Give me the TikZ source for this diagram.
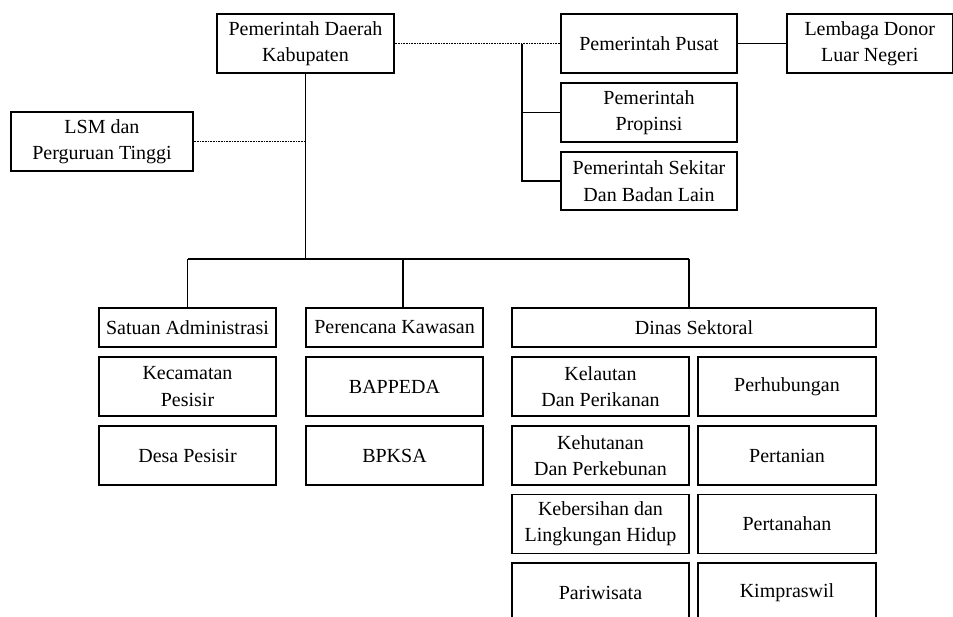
\documentclass[tikz,border=0pt]{standalone}
\usepackage{fontspec}
\setmainfont{Liberation Serif}
\begin{document}
\begin{tikzpicture}[x=1pt,y=-1pt,
  box/.style={draw, line width=1.3pt, inner sep=0pt, align=center,
    font=\fontsize{20}{26.5}\selectfont},
  tall/.style={box, minimum width=177pt, minimum height=59pt},
  flat/.style={box, minimum width=177pt, minimum height=39pt},
  link/.style={line width=1.3pt},
  loose/.style={line width=0.8pt, dash pattern=on 0.8pt off 0.8pt}]
\useasboundingbox (0,0) rectangle (953,616);

% top level
\node[tall] (kab) at (305.5,43.5) {Pemerintah Daerah\\Kabupaten};
\node[tall, minimum width=182pt] (lsm) at (102,141.5) {LSM dan\\Perguruan Tinggi};
\node[tall, minimum width=176pt] (pusat) at (649,43.5) {Pemerintah Pusat};
\node[tall, minimum width=176pt] (prop) at (649,112.5) {Pemerintah\\Propinsi};
\node[tall, minimum width=176pt, minimum height=58pt] (sekitar) at (649,181) {Pemerintah Sekitar\\Dan Badan Lain};
\node[tall, minimum width=165.5pt] (donor) at (869.75,43.5) {Lembaga Donor\\Luar Negeri};

% second level
\node[flat] (satuan) at (187.5,327.5) {Satuan Administrasi};
\node[tall] (kec) at (187.5,386.5) {Kecamatan\\Pesisir};
\node[tall] (desa) at (187.5,455.5) {Desa Pesisir};
\node[flat] (peren) at (394.5,327.5) {Perencana Kawasan};
\node[tall] (bappeda) at (394.5,386.5) {BAPPEDA};
\node[tall] (bpksa) at (394.5,455.5) {BPKSA};
\node[flat, minimum width=364pt] (dinas) at (694,327.5) {Dinas Sektoral};

% sector offices
\node[tall] (kel) at (600.5,386.5) {Kelautan\\Dan Perikanan};
\node[tall] (keh) at (600.5,455.5) {Kehutanan\\Dan Perkebunan};
\node[tall] (keb) at (600.5,523.75) {Kebersihan dan\\Lingkungan Hidup};
\node[tall] (pari) at (600.5,592.5) {Pariwisata};
\node[tall, minimum width=178pt] (perh) at (787,386.5) {Perhubungan};
\node[tall, minimum width=178pt] (pert) at (787,455.5) {Pertanian};
\node[tall, minimum width=178pt] (ptnh) at (787,523.75) {Pertanahan};
\node[tall, minimum width=178pt] (kimp) at (787,592.5) {Kimpraswil};

% junction points
\coordinate (bus) at (305.5,259);
\coordinate (b1) at (187.5,259);
\coordinate (b2) at (403,259);
\coordinate (b3) at (689,259);
\coordinate (lsmj) at (305.5,141.5);
\coordinate (rj) at (522,43.5);

% connectors
\draw[link] (kab.south) -- (bus);
\draw[link] (b1) -- (b3);
\draw[link] (b1) -- (b1 |- satuan.north);
\draw[link] (b2) -- (b2 |- peren.north);
\draw[link] (b3) -- (b3 |- dinas.north);
\draw[loose] (lsm.east) -- (lsmj);
\draw[loose] (kab.east) -- (pusat.west);
\draw[link] (rj) |- (sekitar.west);
\draw[link] (rj |- prop.west) -- (prop.west);
\draw[link] (pusat.east) -- (donor.west);
\end{tikzpicture}
\end{document}
